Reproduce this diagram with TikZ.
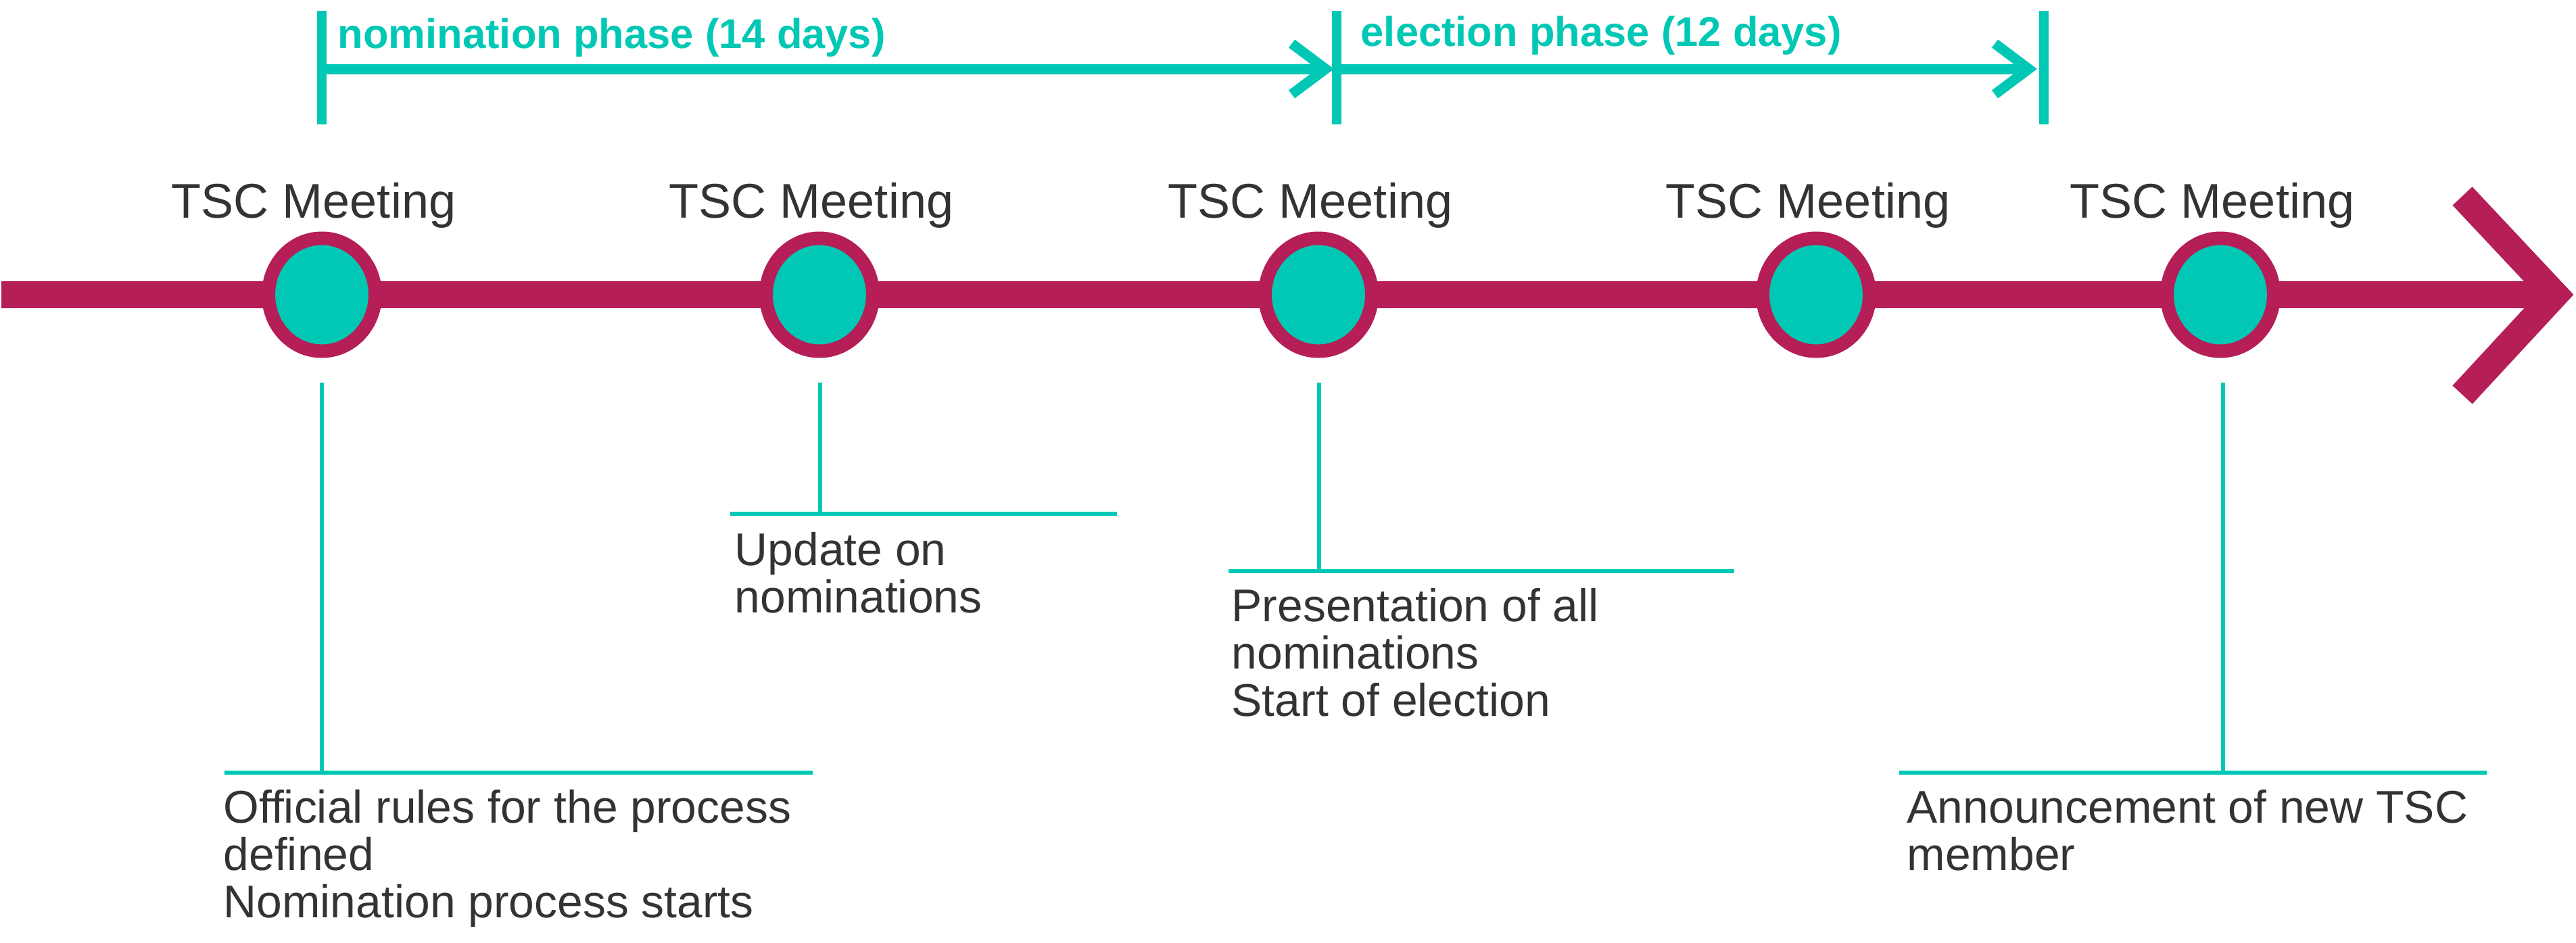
\documentclass[tikz,border=0pt]{standalone}
\usepackage{fontspec}
\setmainfont{Liberation Sans}
\usetikzlibrary{positioning,arrows.meta,shapes.geometric,calc}
\definecolor{tscred}{HTML}{B51E56}
\definecolor{tscteal}{HTML}{00C8B5}
\definecolor{txtgray}{HTML}{333333}

\begin{document}
\begin{tikzpicture}[x=1cm,y=1cm,
  meet/.style={ellipse,draw=tscred,fill=tscteal,line width=0.2cm,
    minimum width=1.58cm,minimum height=1.67cm,inner sep=0pt},
  mlabel/.style={text=txtgray,font=\fontsize{20.5}{24}\selectfont,
    inner sep=0pt,anchor=base},
  note/.style={text=txtgray,font=\fontsize{19.3}{19.9}\selectfont,
    align=left,inner sep=0pt,anchor=base west},
  lead/.style={draw=tscteal,line width=0.06cm},
  phase/.style={text=tscteal,font=\bfseries\fontsize{17.5}{20}\selectfont,
    inner sep=0pt,anchor=base west},
  phasetick/.style={draw=tscteal,line width=0.14cm},
  span/.style={draw=tscteal,line width=0.15cm,
    -{Straight Barb[length=0.5cm,width=0.75cm]}}]
\useasboundingbox (0,-9.58) rectangle (38.1,4.36);

% timeline
\coordinate (t0) at (0.02,0);
\coordinate (t1) at (37.75,0);
\draw[tscred,line width=0.4cm] (t0) -- (t1);
\draw[tscred,line width=0.4cm] (36.42,1.46) -- (37.79,0) -- (36.42,-1.48);

% meetings
\foreach \i/\x in {1/4.76,2/12.12,3/19.50,4/26.86,5/32.84} {
  \node[meet] (m\i) at (\x,0) {};
  \node[mlabel] (l\i) at ($(m\i)+(-0.12,1.14)$) {TSC Meeting};
}

% phases
\coordinate (p0) at (4.76,3.34);
\coordinate (p1) at (19.77,3.34);
\coordinate (p2) at (30.23,3.34);
\foreach \p in {p0,p1,p2}
  \draw[phasetick] ($(\p)+(0,0.86)$) -- ($(\p)+(0,-0.82)$);
\draw[span] (p0) -- ($(p1)+(-0.04,0)$);
\draw[span] (p1) -- ($(p2)+(-0.1,0)$);
\node[phase] (nomph) at (4.99,3.65) {nomination phase (14 days)};
\node[phase] (elph) at (20.12,3.67) {election phase (12 days)};

% notes below the timeline (base = last line)
\coordinate (d1) at (4.76,-1.30);  \coordinate (e1) at (4.76,-7.07);
\coordinate (d2) at (12.13,-1.30); \coordinate (e2) at (12.13,-3.24);
\coordinate (d3) at (19.51,-1.30); \coordinate (e3) at (19.51,-4.09);
\coordinate (d5) at (32.88,-1.30); \coordinate (e5) at (32.88,-7.07);
\foreach \i/\l/\r in {1/3.32/12.02,2/10.80/16.52,3/18.17/25.65,5/28.09/36.78} {
  \draw[lead] (d\i) -- (e\i);
  \draw[lead] (e\i -| \l,0) -- (e\i -| \r,0);
}
\node[note] (n1) at (3.30,-9.21)
  {Official rules for the process\\defined\\Nomination process starts};
\node[note] (n2) at (10.86,-4.70) {Update on\\nominations};
\node[note] (n3) at (18.21,-6.23)
  {Presentation of all\\nominations\\Start of election};
\node[note] (n5) at (28.20,-8.51) {Announcement of new TSC\\member};
\end{tikzpicture}
\end{document}
